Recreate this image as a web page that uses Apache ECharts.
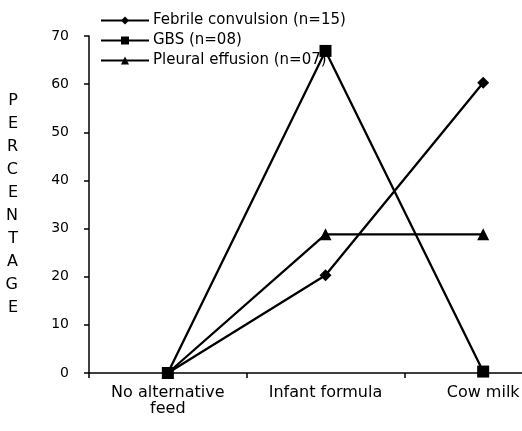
<!DOCTYPE html>
<html>
<head>
<meta charset="utf-8">
<script src="https://cdn.jsdelivr.net/npm/echarts@6/dist/echarts.min.js"></script>
<style>
html,body{margin:0;padding:0;background:#fff;}
#chart{width:522px;height:431px;}
</style>
</head>
<body>
<div id="chart"></div>
<script>
var categories = ['No alternative\nfeed', 'Infant formula', 'Cow milk'];
var febrile = [0, 20.3, 60.3];
var gbs = [0, 66.9, 0.3];
var pleural = [0, 28.8, 28.8];
var seriesNames = ['Febrile convulsion (n=15)', 'GBS (n=08)', 'Pleural effusion (n=07)'];
var yTicks = {min: 0, max: 70, interval: 10};
var yName = 'PERCENTAGE';

var FONT = 'DejaVu Sans, sans-serif';
var chart = echarts.init(document.getElementById('chart'), null, {renderer: 'canvas'});

function mk(name, data, symbol, size) {
  return {
    name: name, type: 'line', data: data,
    symbol: symbol, symbolSize: size,
    itemStyle: {color: '#000'},
    lineStyle: {color: '#000', width: 2.3},
    emphasis: {disabled: true},
    animation: false
  };
}

chart.setOption({
  animation: false,
  backgroundColor: '#fff',
  textStyle: {fontFamily: FONT, color: '#000'},
  grid: {left: 89, top: 36, bottom: 58, width: 473, outerBoundsMode: 'none', containLabel: false},
  legend: {
    orient: 'vertical', left: 95, top: 8,
    itemWidth: 48, itemHeight: 10, itemGap: 5,
    textStyle: {fontFamily: FONT, fontSize: 15, color: '#000', lineHeight: 15, padding: [0,0,0,-1]},
    data: seriesNames
  },
  xAxis: {
    type: 'category', data: categories, boundaryGap: true,
    axisLine: {lineStyle: {color: '#000', width: 1.5}},
    axisTick: {show: true, length: 5, lineStyle: {color: '#000', width: 1.5}},
    axisLabel: {fontFamily: FONT, fontSize: 16, color: '#000', margin: 12, lineHeight: 16, interval: 0}
  },
  yAxis: {
    type: 'value', min: yTicks.min, max: yTicks.max, interval: yTicks.interval,
    name: yName.split('').join('\n'), nameLocation: 'middle', nameRotate: 0, nameGap: 71,
    nameTextStyle: {fontFamily: FONT, fontSize: 16, color: '#000', lineHeight: 23},
    splitLine: {show: false},
    axisLine: {show: true, lineStyle: {color: '#000', width: 1.5}},
    axisTick: {show: true, length: 5, lineStyle: {color: '#000', width: 1.5}},
    axisLabel: {fontFamily: FONT, fontSize: 14, color: '#000', margin: 20}
  },
  series: [
    mk(seriesNames[0], febrile, 'diamond', 12),
    mk(seriesNames[1], gbs, 'rect', 12),
    mk(seriesNames[2], pleural, 'triangle', 12)
  ]
});
</script>
</body>
</html>
